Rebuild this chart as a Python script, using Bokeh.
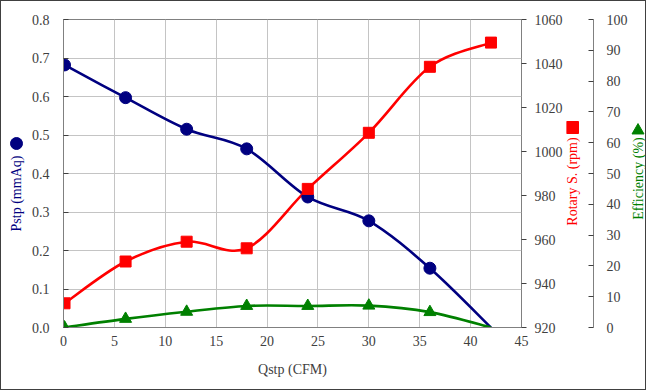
import math
from bokeh.plotting import figure
from bokeh.layouts import row
from bokeh.models import Range1d, LinearAxis, SingleIntervalTicker, NumeralTickFormatter
from bokeh.core.properties import value
from bokeh.embed import file_html
from bokeh.resources import INLINE

# ---- data ----
qstp = [0.1, 6.1, 12.1, 18.0, 24.0, 30.0, 36.0, 42.0]          # Qstp (CFM)
pstp = [0.682, 0.597, 0.515, 0.464, 0.339, 0.277, 0.154, 0.0]   # Pstp (mmAq)
rpm = [931.0, 950.0, 959.0, 956.0, 983.0, 1008.5, 1038.5, 1049.5]  # Rotary S. (rpm)
eff = [0.0, 2.8, 5.1, 7.0, 7.0, 7.1, 5.0, 0.0]                   # Efficiency (%)

x_title = "Qstp (CFM)"
y_title = "Pstp (mmAq)"
rpm_title = "Rotary S. (rpm)"
eff_title = "Efficiency (%)"

FONT = "Liberation Serif"
NAVY = "#000080"
RED = "#FF0000"
GREEN = "#008000"
TXT = "#404040"

# common vertical layout (px)
TOP, FRAME_H, BOTTOM = 18, 308, 62


def smooth_segments(xs, ys):
    """Cubic Bezier control points (Catmull-Rom style) through the data points."""
    n = len(xs)
    out = dict(x0=[], y0=[], x1=[], y1=[], cx0=[], cy0=[], cx1=[], cy1=[])
    for i in range(n - 1):
        a = i - 1 if i > 0 else i
        d = i + 2 if i + 2 < n else i + 1
        out["x0"].append(xs[i]); out["y0"].append(ys[i])
        out["x1"].append(xs[i + 1]); out["y1"].append(ys[i + 1])
        out["cx0"].append(xs[i] + (xs[i + 1] - xs[a]) / 6)
        out["cy0"].append(ys[i] + (ys[i + 1] - ys[a]) / 6)
        out["cx1"].append(xs[i + 1] - (xs[d] - xs[i]) / 6)
        out["cy1"].append(ys[i + 1] - (ys[d] - ys[i]) / 6)
    return out


def style_axis(ax):
    ax.major_label_text_font = FONT
    ax.major_label_text_font_size = "14px"
    ax.major_label_text_color = TXT
    ax.axis_label_text_font = FONT
    ax.axis_label_text_font_size = "14px"
    ax.axis_label_text_font_style = "normal"
    ax.axis_label_text_color = TXT
    ax.minor_tick_line_color = None
    ax.axis_line_color = "#808080"
    ax.major_tick_line_color = "#404040"


def strip(frame_w, right=0):
    """A narrow figure whose frame (no axes) holds a rotated axis title and its key."""
    f = figure(frame_width=frame_w, frame_height=FRAME_H, min_border_left=0,
               min_border_right=right, min_border_top=TOP, min_border_bottom=BOTTOM,
               x_range=Range1d(0, frame_w), y_range=Range1d(0, FRAME_H),
               x_axis_type=None, y_axis_type=None,
               output_backend="svg", toolbar_location=None,
               background_fill_color="white", border_fill_color="white")
    f.grid.visible = False
    f.outline_line_color = None
    return f


def title_with_key(f, text, color, tx, ty, marker, kx, ky, ksize):
    f.text(x=[tx], y=[ty], text=[text], angle=math.pi / 2, text_align="center",
           text_baseline="middle", text_font=value(FONT), text_font_size=value("14px"),
           text_color=color)
    f.scatter(x=[kx], y=[ky], marker=marker, size=ksize, fill_color=color, line_color=color)


# ---------------- main plot ----------------
p = figure(frame_width=458, frame_height=FRAME_H,
           min_border_left=36, min_border_top=TOP, min_border_right=45, min_border_bottom=BOTTOM,
           x_range=Range1d(0, 45), y_range=Range1d(0, 0.8),
           output_backend="svg", toolbar_location=None,
           background_fill_color="white", border_fill_color="white")
p.extra_y_ranges = {"rpm": Range1d(920, 1060), "eff": Range1d(0, 100)}
p.outline_line_color = "#808080"
p.outline_line_width = 1

p.xgrid.ticker = SingleIntervalTicker(interval=5)
p.ygrid.ticker = SingleIntervalTicker(interval=0.1)
for g in (p.xgrid, p.ygrid):
    g.grid_line_color = "#c4c4c4"
    g.grid_line_width = 1

xa = p.xaxis[0]
xa.ticker = SingleIntervalTicker(interval=5)
style_axis(xa)
xa.axis_label = x_title
xa.major_tick_in = 0
xa.major_tick_out = 0
xa.major_label_standoff = 4
xa.axis_label_standoff = 13

ya = p.yaxis[0]
ya.ticker = SingleIntervalTicker(interval=0.1)
ya.formatter = NumeralTickFormatter(format="0.0")
style_axis(ya)
ya.major_tick_in = 5
ya.major_tick_out = 0
ya.major_label_standoff = 10

ra = LinearAxis(y_range_name="rpm", ticker=SingleIntervalTicker(interval=20))
style_axis(ra)
ra.major_tick_in = 0
ra.major_tick_out = 5
ra.major_label_standoff = 8
ra.axis_line_color = None
p.add_layout(ra, "right")

b = smooth_segments(qstp, pstp)
p.bezier(x0=b["x0"], y0=b["y0"], x1=b["x1"], y1=b["y1"], cx0=b["cx0"], cy0=b["cy0"],
         cx1=b["cx1"], cy1=b["cy1"], line_color=NAVY, line_width=2.6)
r = smooth_segments(qstp, rpm)
p.bezier(x0=r["x0"], y0=r["y0"], x1=r["x1"], y1=r["y1"], cx0=r["cx0"], cy0=r["cy0"],
         cx1=r["cx1"], cy1=r["cy1"], line_color=RED, line_width=2.6, y_range_name="rpm")
e = smooth_segments(qstp, eff)
p.bezier(x0=e["x0"], y0=e["y0"], x1=e["x1"], y1=e["y1"], cx0=e["cx0"], cy0=e["cy0"],
         cx1=e["cx1"], cy1=e["cy1"], line_color=GREEN, line_width=2.6, y_range_name="eff")

p.scatter(qstp[:-1], pstp[:-1], marker="circle", size=12, fill_color=NAVY, line_color=NAVY)
p.scatter(qstp, rpm, marker="square", size=11, fill_color=RED, line_color=RED, y_range_name="rpm")
p.scatter(qstp[:-1], eff[:-1], marker="triangle", size=12, fill_color=GREEN, line_color=GREEN,
          y_range_name="eff")

# ---------------- left title strip ----------------
left = strip(26)
title_with_key(left, y_title, NAVY, 15, 134, "circle", 15, 184, 12)

# ---------------- rpm title strip carrying the efficiency axis ----------------
mid = strip(27, right=36)
mid.extra_y_ranges = {"eff": Range1d(0, 100)}
ea = LinearAxis(y_range_name="eff", ticker=SingleIntervalTicker(interval=10))
style_axis(ea)
ea.major_tick_in = 5
ea.major_tick_out = 0
ea.major_label_standoff = 9
mid.add_layout(ea, "right")
title_with_key(mid, rpm_title, RED, 6, 146, "square", 6, 200, 12)

# ---------------- efficiency title strip ----------------
rt = strip(15)
title_with_key(rt, eff_title, GREEN, 7.5, 149, "triangle", 7.5, 197, 12)

layout = row(left, p, mid, rt, styles={"border": "1px solid #404040"})

open("out.html", "w").write(file_html(layout, INLINE))
